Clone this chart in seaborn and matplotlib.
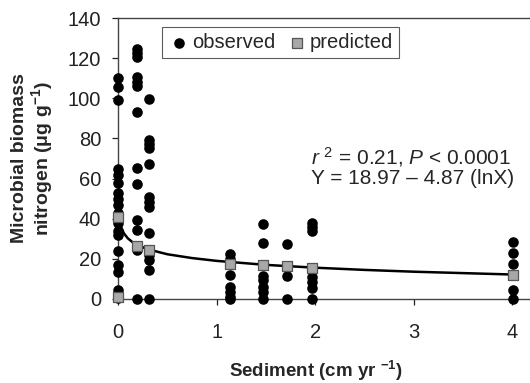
import numpy as np
import pandas as pd
import matplotlib
matplotlib.use('Agg')
import matplotlib.pyplot as plt
import seaborn as sns

# sediment rate (cm/yr) of each sampled site and the observed MBN values there
sed_cols=[0.0,0.19,0.31,1.14,1.47,1.71,1.97,4.01]
mbn_obs=[
	[110,105.5,99,65,62,58,53,50,47,43,38,34,32,24,17,13.5,4.5,0.5],
	[124.5,122.5,120.5,110.5,108,106,93,65.5,57.5,39.5,34.5,24.5,0],
	[99.5,79,77,75,67.5,51,48.5,46,33,22,19.5,14.5,0],
	[22.5,20,12,6,3.5,1,0],
	[37.5,28,11.5,9.5,6,3.5,0],
	[27.5,11.5,0],
	[38,36,34,11,8.5,5.5,0],
	[28.5,23,17.5,4.5,0],
]

pred_x=[0.0,0.0,0.19,0.31,1.14,1.47,1.71,1.97,4.01]
pred_y=[41,1,26.6,24.2,17.6,17.0,16.2,15.5,11.8]

# fitted curve
curve_x=[0.01,0.03,0.06,0.1,0.15,0.2,0.3,0.5,0.75,1.0,1.5,2.0,2.5,3.0,3.5,4.0]
curve_y=[41.4,36.0,32.7,30.2,28.2,26.8,24.8,22.3,20.4,19.0,17.0,15.6,14.5,13.6,12.9,12.2]

obs=pd.DataFrame({
	'sed':[x for x,v in zip(sed_cols,mbn_obs) for _ in v],
	'mbn':[y for v in mbn_obs for y in v],
})
pred=pd.DataFrame({'sed':pred_x,'mbn':pred_y})
curve=pd.DataFrame({'sed':curve_x,'mbn':curve_y})

sns.set_style('ticks')
plt.rcParams['font.family']=['Liberation Sans','DejaVu Sans']
plt.rcParams['mathtext.fontset']='custom'
plt.rcParams['mathtext.rm']='Liberation Sans'
plt.rcParams['mathtext.it']='Liberation Sans:italic'
plt.rcParams['mathtext.bf']='Liberation Sans:bold'

fig=plt.figure(figsize=(5.3,3.83),dpi=100)
ax=fig.add_axes([118/530,1-299/383,1-118/530,281/383])

sns.scatterplot(data=obs,x='sed',y='mbn',ax=ax,color='black',marker='o',s=58,
	edgecolor='black',linewidth=0,label='observed',clip_on=False,zorder=3)
sns.lineplot(data=curve,x='sed',y='mbn',ax=ax,color='black',linewidth=1.8,
	estimator=None,zorder=4,legend=False)
sns.scatterplot(data=pred,x='sed',y='mbn',ax=ax,color='#a8a8a8',marker='s',s=42,
	edgecolor='#555555',linewidth=0.9,label='predicted',clip_on=False,zorder=5)

ax.set_xlim(0,4.18)
ax.set_ylim(0,140)
ax.set_xticks([0,1,2,3,4])
ax.set_yticks(np.arange(0,141,20))
ax.tick_params(labelsize=14.5,length=4,width=0.9,colors='#222222',direction='out')
ax.tick_params(axis='x',pad=13)
ax.tick_params(axis='y',pad=8)
for side in ['left','bottom','top']:
	ax.spines[side].set_color('#444444')
	ax.spines[side].set_linewidth(1.0)
ax.spines['right'].set_visible(False)

ax.set_xlabel('Sediment (cm yr $^{\\mathbf{-1}}$)',fontsize=13.5,fontweight='bold')
ax.xaxis.set_label_coords(0.48,-0.212)
ax.set_ylabel('Microbial biomass\nnitrogen (\u03bcg g$^{\\mathbf{-1}}$)',fontsize=14,
	fontweight='bold',linespacing=1.05)
ax.yaxis.set_label_coords(-0.153,0.5)

ax.text(0.468,0.505,'$r$ $^{2}$ = 0.21, $P$ < 0.0001',transform=ax.transAxes,fontsize=15,va='center')
ax.text(0.468,0.43,'Y = 18.97 \u2013 4.87 (lnX)',transform=ax.transAxes,fontsize=15,va='center')

leg=ax.legend(loc='upper left',bbox_to_anchor=(0.107,0.968),ncol=2,fontsize=14.5,
	frameon=True,fancybox=False,borderaxespad=0,handletextpad=0.1,columnspacing=0.5,
	borderpad=0.3,handlelength=1.1)
leg.get_frame().set_edgecolor('#333333')
leg.get_frame().set_linewidth(0.8)

plt.savefig('out.png',dpi=100)
